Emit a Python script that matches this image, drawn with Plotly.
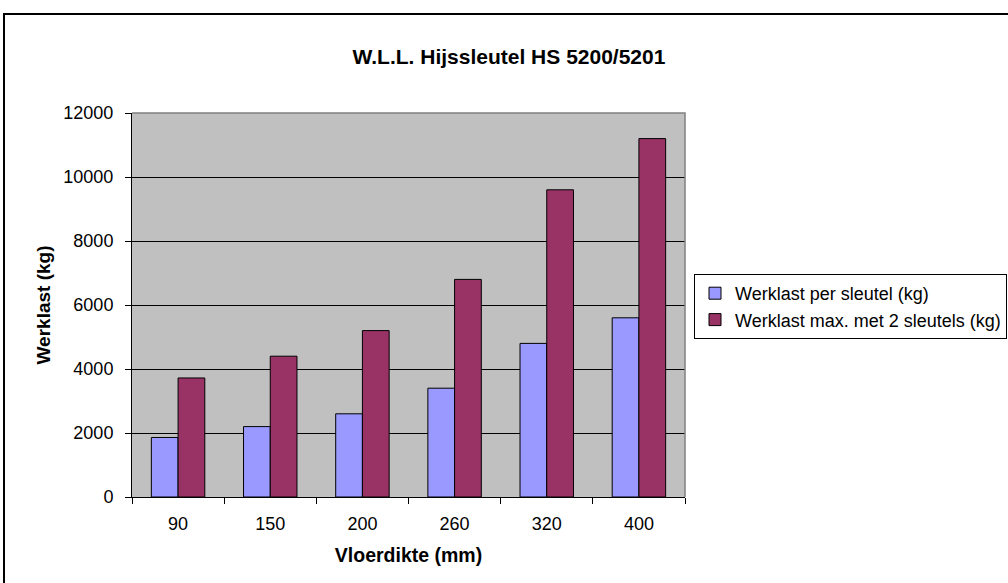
import plotly.graph_objects as go

categories = ["90", "150", "200", "260", "320", "400"]
per_sleutel = [1860, 2200, 2600, 3400, 4800, 5600]
max_2_sleutels = [3720, 4400, 5200, 6800, 9600, 11200]
series_names = ["Werklast per sleutel (kg)", "Werklast max. met 2 sleutels (kg)"]
y_ticks = [0, 2000, 4000, 6000, 8000, 10000, 12000]
y_tick_labels = ["0", "2000", "4000", "6000", "8000", "10000", "12000"]

FONT = "Liberation Sans, Arial, sans-serif"
W, H = 1008, 583
L, R, T, B = 132, 1008 - 685, 113, 583 - 497
pw, ph = W - L - R, H - T - B

def px_x(px):
    return (px - L) / pw

def px_y(py):
    return (H - B - py) / ph

fig = go.Figure()
fig.add_trace(go.Bar(x=categories, y=per_sleutel, name=series_names[0],
                     marker=dict(color="#9999FF", line=dict(color="black", width=1))))
fig.add_trace(go.Bar(x=categories, y=max_2_sleutels, name=series_names[1],
                     marker=dict(color="#993366", line=dict(color="black", width=1))))

fig.update_layout(
    width=W, height=H,
    margin=dict(l=L, r=R, t=T, b=B, autoexpand=False),
    paper_bgcolor="white",
    plot_bgcolor="#C0C0C0",
    barmode="group", bargap=0.42, bargroupgap=0,
    font=dict(family=FONT, size=18, color="black"),
    title=dict(text="<b>W.L.L. Hijssleutel HS 5200/5201</b>", font=dict(size=21, family=FONT, color="black"),
               xref="container", yref="container", x=509 / W, y=1 - 57 / H,
               xanchor="center", yanchor="middle"),
    legend=dict(x=px_x(694), y=px_y(274), xanchor="left", yanchor="top",
                bgcolor="white", bordercolor="black", borderwidth=1,
                font=dict(size=18, family=FONT, color="black")),
    xaxis=dict(type="category", showgrid=False, showline=True, linecolor="black", linewidth=1,
               ticks="outside", tickson="boundaries", ticklen=6, tickcolor="black",
               tickfont=dict(size=18), ticklabelstandoff=10,
               title=dict(text="<b>Vloerdikte (mm)</b>", font=dict(size=19.5), standoff=15)),
    yaxis=dict(range=[0, 12000], tickvals=y_ticks, ticktext=y_tick_labels,
               showgrid=True, gridcolor="black", gridwidth=1,
               showline=True, linecolor="black", linewidth=1, zeroline=False,
               ticks="outside", ticklen=6, tickcolor="black", tickfont=dict(size=18),
               ticklabelstandoff=8,
               title=dict(text="<b>Werklast (kg)</b>", font=dict(size=19), standoff=7)),
    showlegend=True,
)

# plot-area border on top and right (grey), as in the reference
fig.add_shape(type="path", xref="paper", yref="paper", path="M0,1 L1,1 L1,0",
              line=dict(color="#808080", width=1.5), layer="above")
# outer chart border: only top and left edges are visible in the reference
xl, xr, yt, yb = px_x(4), px_x(1008), px_y(14), px_y(583)
fig.add_shape(type="path", xref="paper", yref="paper",
              path=f"M{xr},{yt} L{xl},{yt} L{xl},{yb}",
              line=dict(color="black", width=2), layer="below")

fig.write_html("out.html", config={"displayModeBar": False},
               post_script="document.body.style.margin='0px';")
